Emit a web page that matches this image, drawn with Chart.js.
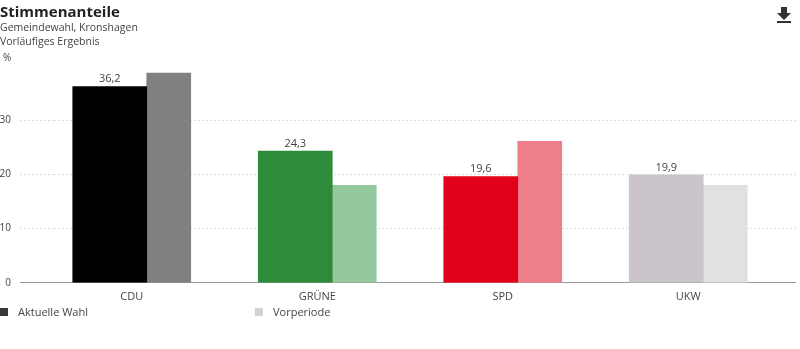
<!DOCTYPE html>
<html>
<head>
<meta charset="utf-8">
<script src="https://cdn.jsdelivr.net/npm/chart.js@4/dist/chart.umd.min.js"></script>
<style>
  body { margin: 0; background: #fff; font-family: "Open Sans", sans-serif; color: #333; }
  #wrap { position: relative; width: 800px; height: 349px; overflow: hidden; }
  #chart { position: absolute; left: 0; top: 0; }
  .t { position: absolute; left: 0; white-space: nowrap; }
  #title { top: 1px; font-size: 15px; font-weight: bold; color: #222; }
  #sub1 { top: 20px; font-size: 10.5px; color: #444; }
  #sub2 { top: 34px; font-size: 10.5px; color: #444; }
  #unit { top: 50px; left: 3px; font-size: 10px; color: #444; }
  #dl { position: absolute; left: 777px; top: 7px; }
  .lg { position: absolute; top: 304px; font-size: 11px; color: #444; }
  .lg span { display: inline-block; width: 8px; height: 8px; margin-right: 10px; }
</style>
</head>
<body>
<div id="wrap">
  <canvas id="chart" width="800" height="310"></canvas>
  <div class="t" id="title">Stimmenanteile</div>
  <div class="t" id="sub1">Gemeindewahl, Kronshagen</div>
  <div class="t" id="sub2">Vorläufiges Ergebnis</div>
  <div class="t" id="unit">%</div>
  <svg id="dl" width="14" height="16" viewBox="0 0 14 16">
    <path d="M4 0h6v6h4l-7 7-7-7h4z" fill="#333"/>
    <rect x="0" y="14" width="14" height="2" fill="#333"/>
  </svg>
  <div class="lg" style="left:0"><span style="background:#3a3a3a"></span>Aktuelle Wahl</div>
  <div class="lg" style="left:255px"><span style="background:#d2d2d2"></span>Vorperiode</div>
</div>
<script>
// parties and results
let parties = ["CDU", "GRÜNE", "SPD", "UKW"];
let currentVotes = [36.2, 24.3, 19.6, 19.9];
let previousVotes = [38.7, 18.0, 26.1, 18.0];
let yTicks = [0, 10, 20, 30];

let currentColors = ['#000000', '#2e8b39', '#e2001a', '#cbc5cb'];
let previousColors = ['#808080', '#96c89d', '#ef7e8b', '#e3e0e4'];

// value labels above the current bars
const valueLabels = {
  id: 'valueLabels',
  afterDatasetsDraw(chart) {
    const ctx = chart.ctx;
    const meta = chart.getDatasetMeta(0);
    ctx.save();
    ctx.font = '11px "Open Sans", sans-serif';
    ctx.fillStyle = '#444';
    ctx.textAlign = 'center';
    ctx.textBaseline = 'bottom';
    meta.data.forEach(function (bar, i) {
      ctx.fillText(currentVotes[i].toFixed(1).replace('.', ','), bar.x, bar.y - 2);
    });
    ctx.restore();
  }
};

new Chart(document.getElementById('chart'), {
  type: 'bar',
  data: {
    labels: parties,
    datasets: [
      {
        label: 'Aktuelle Wahl',
        data: currentVotes,
        backgroundColor: currentColors,
        barThickness: 74
      },
      {
        label: 'Vorperiode',
        data: previousVotes,
        backgroundColor: previousColors,
        barThickness: 44
      }
    ]
  },
  plugins: [valueLabels],
  options: {
    responsive: false,
    animation: false,
    layout: { padding: { top: 66, right: 4, left: 0, bottom: 0 } },
    plugins: {
      legend: { display: false },
      tooltip: { enabled: false }
    },
    scales: {
      x: {
        grid: { display: false, drawTicks: false },
        border: { display: false },
        ticks: {
          color: '#444',
          font: { family: '"Open Sans", sans-serif', size: 11 },
          padding: 7,
          labelOffset: -15
        }
      },
      y: {
        min: 0,
        max: 40,
        afterBuildTicks: function (scale) {
          scale.ticks = yTicks.map(v => ({ value: v }));
        },
        afterFit: function (scale) { scale.width = 54; },
        grid: {
          color: ctx => ctx.tick && ctx.tick.value === 0 ? '#999' : '#ddd',
          lineWidth: 1,
          tickLength: 34,
          tickColor: ctx => ctx.tick && ctx.tick.value === 0 ? '#999' : '#ddd',
          tickBorderDash: ctx => ctx.tick && ctx.tick.value === 0 ? [] : [2, 2]
        },
        border: {
          display: false,
          dash: ctx => ctx.tick && ctx.tick.value === 0 ? [] : [2, 2]
        },
        ticks: {
          color: '#444',
          font: { family: '"Open Sans", sans-serif', size: 10 },
          padding: 9
        }
      }
    }
  }
});
</script>
</body>
</html>
